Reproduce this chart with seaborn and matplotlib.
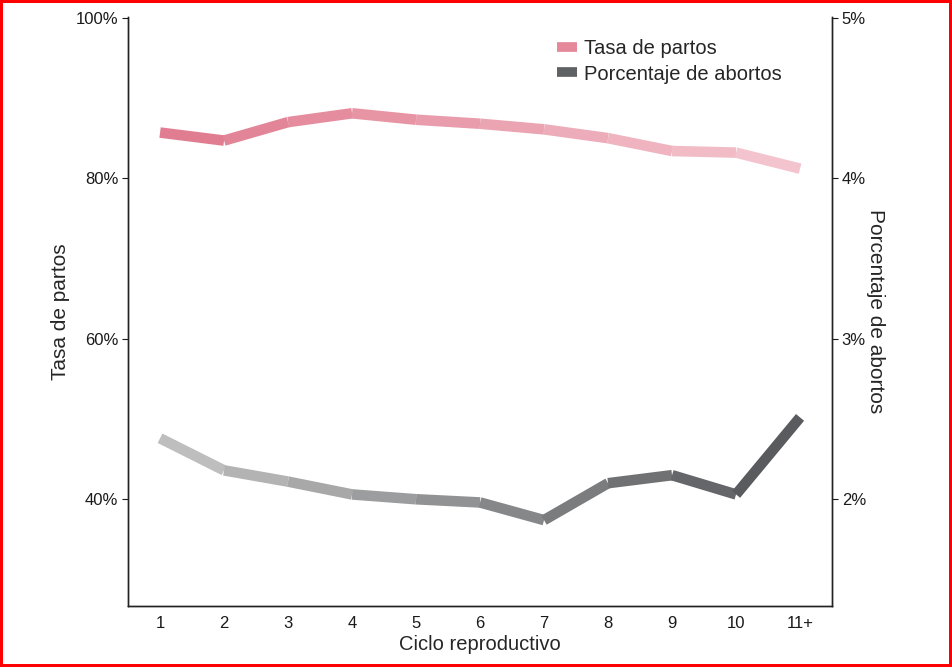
import numpy as np
import pandas as pd
import matplotlib
matplotlib.use("Agg")
import matplotlib.pyplot as plt
from matplotlib.colors import LinearSegmentedColormap
from matplotlib.lines import Line2D
from matplotlib.ticker import FuncFormatter
import seaborn as sns

# -----------------------------
# Data
# -----------------------------
ciclos = ["1", "2", "3", "4", "5", "6", "7", "8", "9", "10", "11+"]
tasa_partos = [85.7, 84.7, 87.0, 88.1, 87.3, 86.8, 86.1, 85.0, 83.4, 83.2, 81.2]
pct_abortos = [2.38, 2.18, 2.11, 2.03, 2.00, 1.98, 1.87, 2.10, 2.15, 2.03, 2.51]

df = pd.DataFrame({"x": np.arange(1, len(ciclos) + 1),
                   "partos": tasa_partos, "abortos": pct_abortos})

sns.set_theme(style="white")
plt.rcParams["font.family"] = ["Liberation Sans", "DejaVu Sans"]

pink_cmap = LinearSegmentedColormap.from_list("pink", ["#E17D91", "#F3C4CD"])
gray_cmap = LinearSegmentedColormap.from_list("gray", ["#BEBEBE", "#595B5E"])

fig = plt.figure(figsize=(9.52, 6.67), dpi=100)
fig.patch.set_edgecolor("red")
fig.patch.set_linewidth(4)
ax = fig.add_axes([0.1345, 0.0915, 0.7395, 0.883])
ax2 = ax.twinx()

# gradient lines: one segment at a time, colour follows the cycle
n = len(df)
for i in range(n - 1):
    seg = df.iloc[i:i + 2]
    t = i / (n - 2)
    sns.lineplot(data=seg, x="x", y="partos", ax=ax, color=pink_cmap(t),
                 linewidth=7.6, solid_capstyle="butt", legend=False)
    sns.lineplot(data=seg, x="x", y="abortos", ax=ax2, color=gray_cmap(t),
                 linewidth=7.6, solid_capstyle="butt", legend=False)

ax.set_xlim(0.5, 11.5)
ax.set_ylim(26.7, 100.1)
ax2.set_ylim(26.7 / 20, 100.1 / 20)
ax.set_xticks(df["x"])
ax.set_xticklabels(ciclos)
ax.set_yticks([40, 60, 80, 100])
ax2.set_yticks([2, 3, 4, 5])
ax.yaxis.set_major_formatter(FuncFormatter(lambda v, p: f"{v:.0f}%"))
ax2.yaxis.set_major_formatter(FuncFormatter(lambda v, p: f"{v:.0f}%"))

for a in (ax, ax2):
    a.spines["top"].set_visible(False)
    for s in ("left", "right", "bottom"):
        a.spines[s].set_color("#222222")
        a.spines[s].set_linewidth(1.0)
    a.tick_params(axis="both", direction="out", length=4, width=0.8,
                  colors="#1a1a1a", labelsize=12, pad=3)
    a.set_facecolor("none")

ax.set_xlabel("Ciclo reproductivo", fontsize=14.5, labelpad=3)
ax.set_ylabel("Tasa de partos", fontsize=15, labelpad=4)
ax2.set_ylabel("Porcentaje de abortos", fontsize=15, rotation=270, labelpad=14)

handles = [Line2D([0], [0], color="#E5899A", linewidth=7, solid_capstyle="butt"),
           Line2D([0], [0], color="#5F6265", linewidth=7, solid_capstyle="butt")]
fig.legend(handles, ["Tasa de partos", "Porcentaje de abortos"],
           loc="upper left", bbox_to_anchor=(0.566, 0.968), frameon=False,
           fontsize=14.5, handlelength=1.0, handletextpad=0.35, labelspacing=0.3)

fig.savefig("out.png", dpi=100, edgecolor=fig.get_edgecolor())
